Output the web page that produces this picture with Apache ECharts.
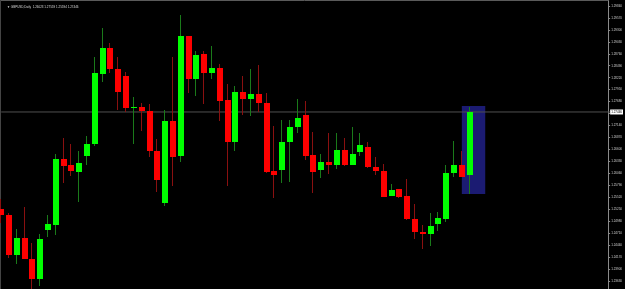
<!DOCTYPE html>
<html>
<head>
<meta charset="utf-8">
<script src="https://cdn.jsdelivr.net/npm/echarts@6/dist/echarts.min.js"></script>
<style>
  html, body { margin: 0; padding: 0; background: #000; }
  #chart { width: 625px; height: 289px; }
</style>
</head>
<body>
<div id="chart"></div>
<script>
// ---- data ----
const symbolTitle = '▼ GBPUSD,Daily  1.26023 1.27559 1.25594 1.27446';
const totalSlots = 79; // 61 daily candles + empty space to the right

const opens  = [1.25256,1.25120,1.24217,1.24601,1.24127,1.23675,1.24781,1.24894,1.26385,1.26249,
                1.26091,1.26452,1.26723,1.28304,1.28891,1.28417,1.28259,1.27536,1.27559,1.27469,
                1.26565,1.25391,1.27243,1.26452,1.29162,1.28191,1.28756,1.28327,1.28440,1.27717,
                1.26769,1.27898,1.27739,1.27852,1.27649,1.26114,1.26136,1.26769,1.27107,1.27378,
                1.26475,1.26136,1.26317,1.26249,1.26588,1.26249,1.26543,1.26656,1.26204,1.26114,
                1.25549,1.25707,1.25549,1.25030,1.24736,1.24691,1.24917,1.25030,1.26069,1.26249,
                1.26023];
const closes = [1.25120,1.24217,1.24601,1.24127,1.23675,1.24578,1.24917,1.26385,1.26227,1.26114,
                1.26294,1.26723,1.28327,1.28891,1.28417,1.27898,1.27536,1.27559,1.27469,1.26565,
                1.25910,1.27243,1.26430,1.29162,1.28191,1.28733,1.28327,1.28440,1.27694,1.26769,
                1.27898,1.27739,1.27852,1.27649,1.26091,1.26023,1.26769,1.27107,1.27310,1.26452,
                1.26091,1.26317,1.26249,1.26588,1.26249,1.26498,1.26701,1.26204,1.26114,1.25527,
                1.25685,1.25527,1.25030,1.24736,1.24691,1.24872,1.25052,1.26069,1.26249,1.25978,
                1.27446];
const lows   = [1.24939,1.24149,1.24014,1.24127,1.23449,1.23517,1.24623,1.24669,1.25843,1.26001,
                1.25414,1.26249,1.26678,1.28123,1.28327,1.27491,1.27446,1.26723,1.27017,1.26430,
                1.25639,1.25323,1.25775,1.26317,1.27875,1.27807,1.27627,1.28191,1.27243,1.25775,
                1.26565,1.27378,1.27356,1.27446,1.26069,1.25504,1.25843,1.25865,1.26972,1.26362,
                1.25617,1.25956,1.26046,1.26159,1.26227,1.26249,1.26452,1.26181,1.26023,1.25527,
                1.25549,1.25504,1.25007,1.24578,1.24352,1.24420,1.24759,1.24962,1.25978,1.25978,
                1.25594];
const highs  = [1.25481,1.25165,1.24804,1.25301,1.24488,1.24691,1.25120,1.26498,1.26859,1.26723,
                1.26565,1.26904,1.28688,1.29343,1.29004,1.28688,1.28349,1.27785,1.27649,1.27627,
                1.26836,1.27491,1.28688,1.29636,1.29162,1.28823,1.28823,1.28936,1.28530,1.28078,
                1.28033,1.28259,1.28417,1.28507,1.27875,1.27130,1.27265,1.27265,1.27739,1.27694,
                1.26994,1.26498,1.26972,1.26972,1.26859,1.27107,1.26972,1.26769,1.26430,1.26272,
                1.25820,1.25707,1.25933,1.25369,1.24894,1.25165,1.25188,1.26249,1.26791,1.26565,
                1.27559];

const tickValues = [1.29840,1.29570,1.29300,1.29030,1.28760,1.28490,1.28220,1.27950,1.27680,1.27410,
                    1.27140,1.26870,1.26600,1.26330,1.26060,1.25790,1.25520,1.25250,1.24980,1.24710,
                    1.24440,1.24170,1.23900,1.23630];

const priceMin = 1.23449;
const priceMax = 1.29952;
const currentPrice = 1.27446;
const boxStartSlot = 59, boxEndSlot = 62;
const boxHigh = 1.27582, boxLow = 1.25594;

// ---- build ----
const categories = [];
for (let i = 0; i < totalSlots; i++) categories.push(String(i + 1));
const candleData = opens.map((o, i) => [i, o, closes[i], lows[i], highs[i]]);
const priceLineData = [[0, currentPrice], [totalSlots - 1, currentPrice]];

const BULL = '#00ff00', BEAR = '#ff0000';
const BULL_WICK = '#1a7a1a', BEAR_WICK = '#8a1010';
const FONT = 'Liberation Sans, Arial, sans-serif';

function renderCandle(params, api) {
  const i = api.value(0);
  const o = api.value(1), c = api.value(2), l = api.value(3), h = api.value(4);
  const pO = api.coord([i, o]);
  const pC = api.coord([i, c]);
  const pL = api.coord([i, l]);
  const pH = api.coord([i, h]);
  const xr = Math.round(pO[0]);
  const up = c >= o;
  const top = Math.round(Math.min(pO[1], pC[1]));
  const bot = Math.round(Math.max(pO[1], pC[1]));
  return {
    type: 'group',
    children: [
      { type: 'line', shape: { x1: xr - 0.5, y1: Math.round(pH[1]), x2: xr - 0.5, y2: Math.round(pL[1]) },
        style: { stroke: up ? BULL_WICK : BEAR_WICK, lineWidth: 1 } },
      { type: 'rect', shape: { x: xr - 3, y: top, width: 6, height: Math.max(1, bot - top) },
        style: { fill: up ? BULL : BEAR } }
    ]
  };
}

const chart = echarts.init(document.getElementById('chart'), null, { renderer: 'canvas' });
chart.setOption({
  backgroundColor: '#000000',
  animation: false,
  title: {
    text: symbolTitle, left: 2, top: 1,
    textStyle: { color: '#d8d8d8', fontSize: 3, fontWeight: 'normal', fontFamily: FONT }
  },
  grid: { left: 1.2, right: 14, top: 1, bottom: 0, containLabel: false },
  xAxis: {
    type: 'category', data: categories, boundaryGap: false,
    axisLine: { show: false }, axisTick: { show: false }, axisLabel: { show: false }, splitLine: { show: false }
  },
  yAxis: {
    type: 'value', position: 'right', offset: -2, min: priceMin, max: priceMax, scale: true,
    axisLine: { show: true, lineStyle: { color: '#8a8a8a', width: 1 } },
    axisTick: { show: true, length: 2, customValues: tickValues, lineStyle: { color: '#8a8a8a' } },
    axisLabel: { show: true, customValues: tickValues, margin: 3, color: '#d0d0d0', fontSize: 3,
                 fontFamily: FONT, formatter: v => v.toFixed(5) },
    splitLine: { show: false }
  },
  graphic: [
    { type: 'line', shape: { x1: 0, y1: 0.5, x2: 609, y2: 0.5 }, style: { stroke: '#5a5a5a', lineWidth: 1 }, silent: true },
    { type: 'line', shape: { x1: 0.5, y1: 0, x2: 0.5, y2: 289 }, style: { stroke: '#444444', lineWidth: 1 }, silent: true }
  ],
  series: [
    {
      type: 'line', data: priceLineData, z: 1, silent: true, symbol: 'none',
      lineStyle: { color: '#505050', width: 1 },
      endLabel: { show: true, distance: 0, formatter: () => currentPrice.toFixed(5),
                  backgroundColor: '#ffffff', color: '#000000', fontSize: 3, padding: [1, 1, 1, 1],
                  fontFamily: FONT },
      markArea: {
        silent: true,
        itemStyle: { color: '#1b1b72', opacity: 1 },
        data: [[ { xAxis: categories[boxStartSlot], yAxis: boxHigh }, { xAxis: categories[boxEndSlot], yAxis: boxLow } ]]
      }
    },
    {
      type: 'custom', z: 3, renderItem: renderCandle, data: candleData,
      encode: { x: 0, y: [1, 2, 3, 4] }
    }
  ]
});
</script>
</body>
</html>
